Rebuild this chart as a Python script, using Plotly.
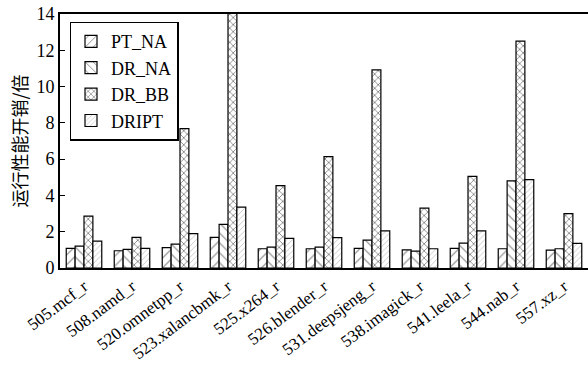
import plotly.graph_objects as go

categories = ["505.mcf_r", "508.namd_r", "520.omnetpp_r", "523.xalancbmk_r", "525.x264_r",
              "526.blender_r", "531.deepsjeng_r", "538.imagick_r", "541.leela_r", "544.nab_r", "557.xz_r"]
pt_na = [1.08, 0.95, 1.12, 1.69, 1.06, 1.06, 1.08, 1.00, 1.08, 1.06, 0.99]
dr_na = [1.21, 1.03, 1.32, 2.40, 1.15, 1.15, 1.54, 0.93, 1.37, 4.80, 1.06]
dr_bb = [2.86, 1.69, 7.68, 14.6, 4.54, 6.14, 10.92, 3.30, 5.05, 12.50, 3.00]
dript = [1.48, 1.08, 1.90, 3.35, 1.63, 1.67, 2.05, 1.06, 2.05, 4.87, 1.36]
y_ticks = [0, 2, 4, 6, 8, 10, 12, 14]

series = [
    ("PT_NA", pt_na, dict(shape="/", fgcolor="black", size=7, solidity=0.15)),
    ("DR_NA", dr_na, dict(shape="\\", fgcolor="black", size=7, solidity=0.15)),
    ("DR_BB", dr_bb, dict(shape="x", fgcolor="black", size=5, solidity=0.3)),
    ("DRIPT", dript, dict(shape="/", fgcolor="#555555", size=4, solidity=0.15)),
]

fig = go.Figure()
for name, vals, pat in series:
    fig.add_trace(go.Bar(
        name=name, x=categories, y=vals,
        marker=dict(color="white", line=dict(color="black", width=1.2), pattern=dict(bgcolor="white", **pat)),
    ))

font = "Liberation Serif, DejaVu Serif, serif"
fig.update_layout(
    width=588, height=366,
    margin=dict(l=60, r=0, t=14, b=98, autoexpand=False),
    barmode="group", bargap=0.26, bargroupgap=0,
    plot_bgcolor="white", paper_bgcolor="white",
    font=dict(family=font, size=18, color="black"),
    legend=dict(x=0.018, y=0.97, xanchor="left", yanchor="top",
                bordercolor="black", borderwidth=1.5, bgcolor="white",
                font=dict(size=18, family=font), tracegroupgap=0, itemwidth=30),
    xaxis=dict(showline=True, linecolor="black", linewidth=2, mirror=True,
               tickangle=-37, ticks="", range=[-0.5, 10.5],
               tickfont=dict(size=17, family=font)),
    yaxis=dict(showline=True, linecolor="black", linewidth=2, mirror=True,
               range=[0, 14], tickvals=y_ticks, ticks="inside", ticklen=5,
               tickcolor="black", showgrid=False, zeroline=False,
               title=dict(text="运行性能开销/倍", font=dict(size=18, family="Noto Sans CJK SC"), standoff=4),
               tickfont=dict(size=18, family=font)),
)
fig.write_html("out.html", config={"displayModeBar": False},
               post_script="document.body.style.margin='0px';document.body.style.overflow='hidden';")
